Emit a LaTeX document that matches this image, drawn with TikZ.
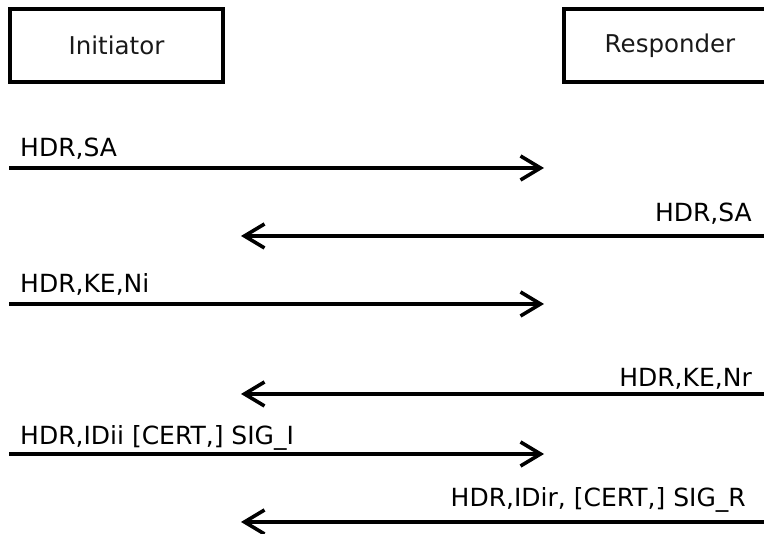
\documentclass[tikz,border=0pt]{standalone}
\usepackage{fontspec}
\setmainfont{DejaVu Sans}
\usetikzlibrary{arrows.meta}
\begin{document}
\begin{tikzpicture}[x=1pt,y=-1pt,
  party/.style={draw=black,line width=4pt,minimum width=213pt,minimum height=73pt,inner sep=0pt,font=\fontsize{24.5}{28}\selectfont,text=black!90},
  msg/.style={line width=3.6pt,-{Straight Barb[length=20pt,width=24pt,line width=3.6pt]}},
  lbl/.style={inner sep=0pt,font=\fontsize{25}{28}\selectfont,text=black}]
\useasboundingbox (0,0) rectangle (764,534);
\clip (0,0) rectangle (764,534);
\node[party] (init) at (116.5,45.5) {Initiator};
\node[party] (resp) at (670,45.5) {Responder};
% endpoints
\coordinate (a1s) at (9,168);   \coordinate (a1e) at (544,168);
\coordinate (a2s) at (770,236); \coordinate (a2e) at (241,236);
\coordinate (a3s) at (9,304);   \coordinate (a3e) at (544,304);
\coordinate (a4s) at (770,394); \coordinate (a4e) at (241,394);
\coordinate (a5s) at (9,454);   \coordinate (a5e) at (544,454);
\coordinate (a6s) at (770,522); \coordinate (a6e) at (241,522);
\draw[msg] (a1s) -- (a1e);
\draw[msg] (a2s) -- (a2e);
\draw[msg] (a3s) -- (a3e);
\draw[msg] (a4s) -- (a4e);
\draw[msg] (a5s) -- (a5e);
\draw[msg] (a6s) -- (a6e);
\node[lbl,anchor=base west] (l1) at (20,157) {HDR,SA};
\node[lbl,anchor=base east] (l2) at (752,222) {HDR,SA};
\node[lbl,anchor=base west] (l3) at (20,293) {HDR,KE,Ni};
\node[lbl,anchor=base east] (l4) at (752,387) {HDR,KE,Nr};
\node[lbl,anchor=base west] (l5) at (20,445) {HDR,IDii [CERT,] SIG\_I};
\node[lbl,anchor=base east] (l6) at (746,507) {HDR,IDir, [CERT,] SIG\_R};
\end{tikzpicture}
\end{document}
